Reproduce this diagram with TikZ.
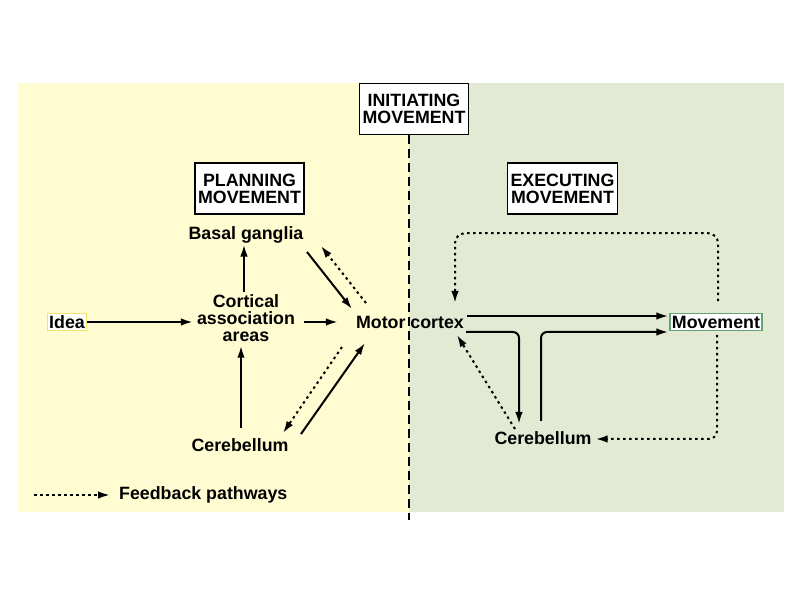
\documentclass[tikz,border=0pt]{standalone}
\usepackage{fontspec}
\setmainfont{Liberation Sans}
\usetikzlibrary{arrows.meta,calc}
\definecolor{yellowbg}{RGB}{255,252,210}
\definecolor{greenbg}{RGB}{226,234,212}
\definecolor{ideaborder}{RGB}{240,228,110}
\definecolor{movborder}{RGB}{100,160,120}
\begin{document}
\begin{tikzpicture}[x=1pt,y=-1pt,
 lbl/.style={font=\fontsize{17.8}{17}\selectfont\bfseries, inner sep=2pt, align=center},
 hbox/.style={lbl, draw=black, line width=1.6pt, fill=white, minimum width=108pt, minimum height=51pt, inner sep=3pt},
 arr/.style={line width=2pt, -{Latex[length=12pt,width=7.5pt]}},
 fb/.style={line width=2pt, dash pattern=on 2.5pt off 3.5pt, -{Latex[length=12pt,width=7.5pt]}},
]
\useasboundingbox (0,0) rectangle (801,601);
\fill[yellowbg] (18,83) rectangle (409,512);
\fill[greenbg] (409,83) rectangle (784,512);
\draw[line width=1.5pt, dash pattern=on 9pt off 5pt] (409,135) -- (409,520);

\node[hbox] (init) at (414,109) {INITIATING\\MOVEMENT};
\node[hbox] (plan) at (249.5,188.5) {PLANNING\\MOVEMENT};
\node[hbox] (exec) at (562.5,188.5) {EXECUTING\\MOVEMENT};

\node[lbl] (bg) at (246,235) {Basal ganglia};
\node[lbl] (cort) at (246,318) {Cortical\\association\\areas};
\node[lbl, draw=ideaborder, fill=white, line width=1pt] (idea) at (67,322) {Idea};
\node[lbl] (motor) at (410,322) {Motor cortex};
\node[lbl, draw=movborder, fill=white, line width=1.2pt] (mov) at (716,322) {Movement};
\node[lbl] (cbl) at (240,445) {Cerebellum};
\node[lbl] (cbr) at (543,438) {Cerebellum};
\node[lbl, anchor=west] (fbtext) at (117,495) {Feedback pathways};
\coordinate (fbstart) at (34,495);

% left side
\draw[arr] (idea.east) -- ($(cort.west |- idea.east)+(-2,0)$);
\draw[arr] ($(cort.east |- idea.east)+(7,0)$) -- ($(motor.west)+(-16,0)$);
\draw[arr] ($(cort.north)+(-2,0)$) -- ($(bg.south)+(-2,-1)$);
\draw[arr] ($(cbl.north)+(1,-8)$) -- ($(cort.south)+(-5,2)$);
\draw[arr] ($(bg)+(61,17)$) -- ($(motor)+(-58,-13)$);
\draw[fb] ($(motor)+(-44,-19)$) -- ($(bg)+(75,11)$);
\draw[fb] ($(motor)+(-68,25)$) -- ($(cbl)+(43,-12)$);
\draw[arr] ($(cbl)+(61,-11)$) -- ($(motor)+(-45,21)$);

% right side
\draw[arr] ($(motor)+(57,-6)$) -- ($(mov.west)+(-1,-6)$);
\coordinate (m2) at ($(motor)+(56,10)$);
\coordinate (c1) at ($(cbr)+(-24,-14)$);
\draw[arr, rounded corners=6pt] (m2) -- (m2 -| c1) -- (c1);
\coordinate (c2) at ($(cbr)+(-2,-17)$);
\draw[arr, rounded corners=6pt] (c2) |- ($(mov.west)+(-1,10)$);
\draw[fb, rounded corners=10pt] ($(mov.north)+(2,-12)$) -- ++(0,-68) -| ($(motor)+(45,-19)$);
\draw[fb, rounded corners=8pt] ($(mov.south)+(1,4)$) |- ($(cbr.east)+(2,1)$);
\draw[fb] ($(cbr)+(-28,-9)$) -- ($(motor)+(47,13)$);

% legend
\draw[fb] (fbstart) -- ($(fbtext.west)+(-7,0)$);
\end{tikzpicture}
\end{document}
